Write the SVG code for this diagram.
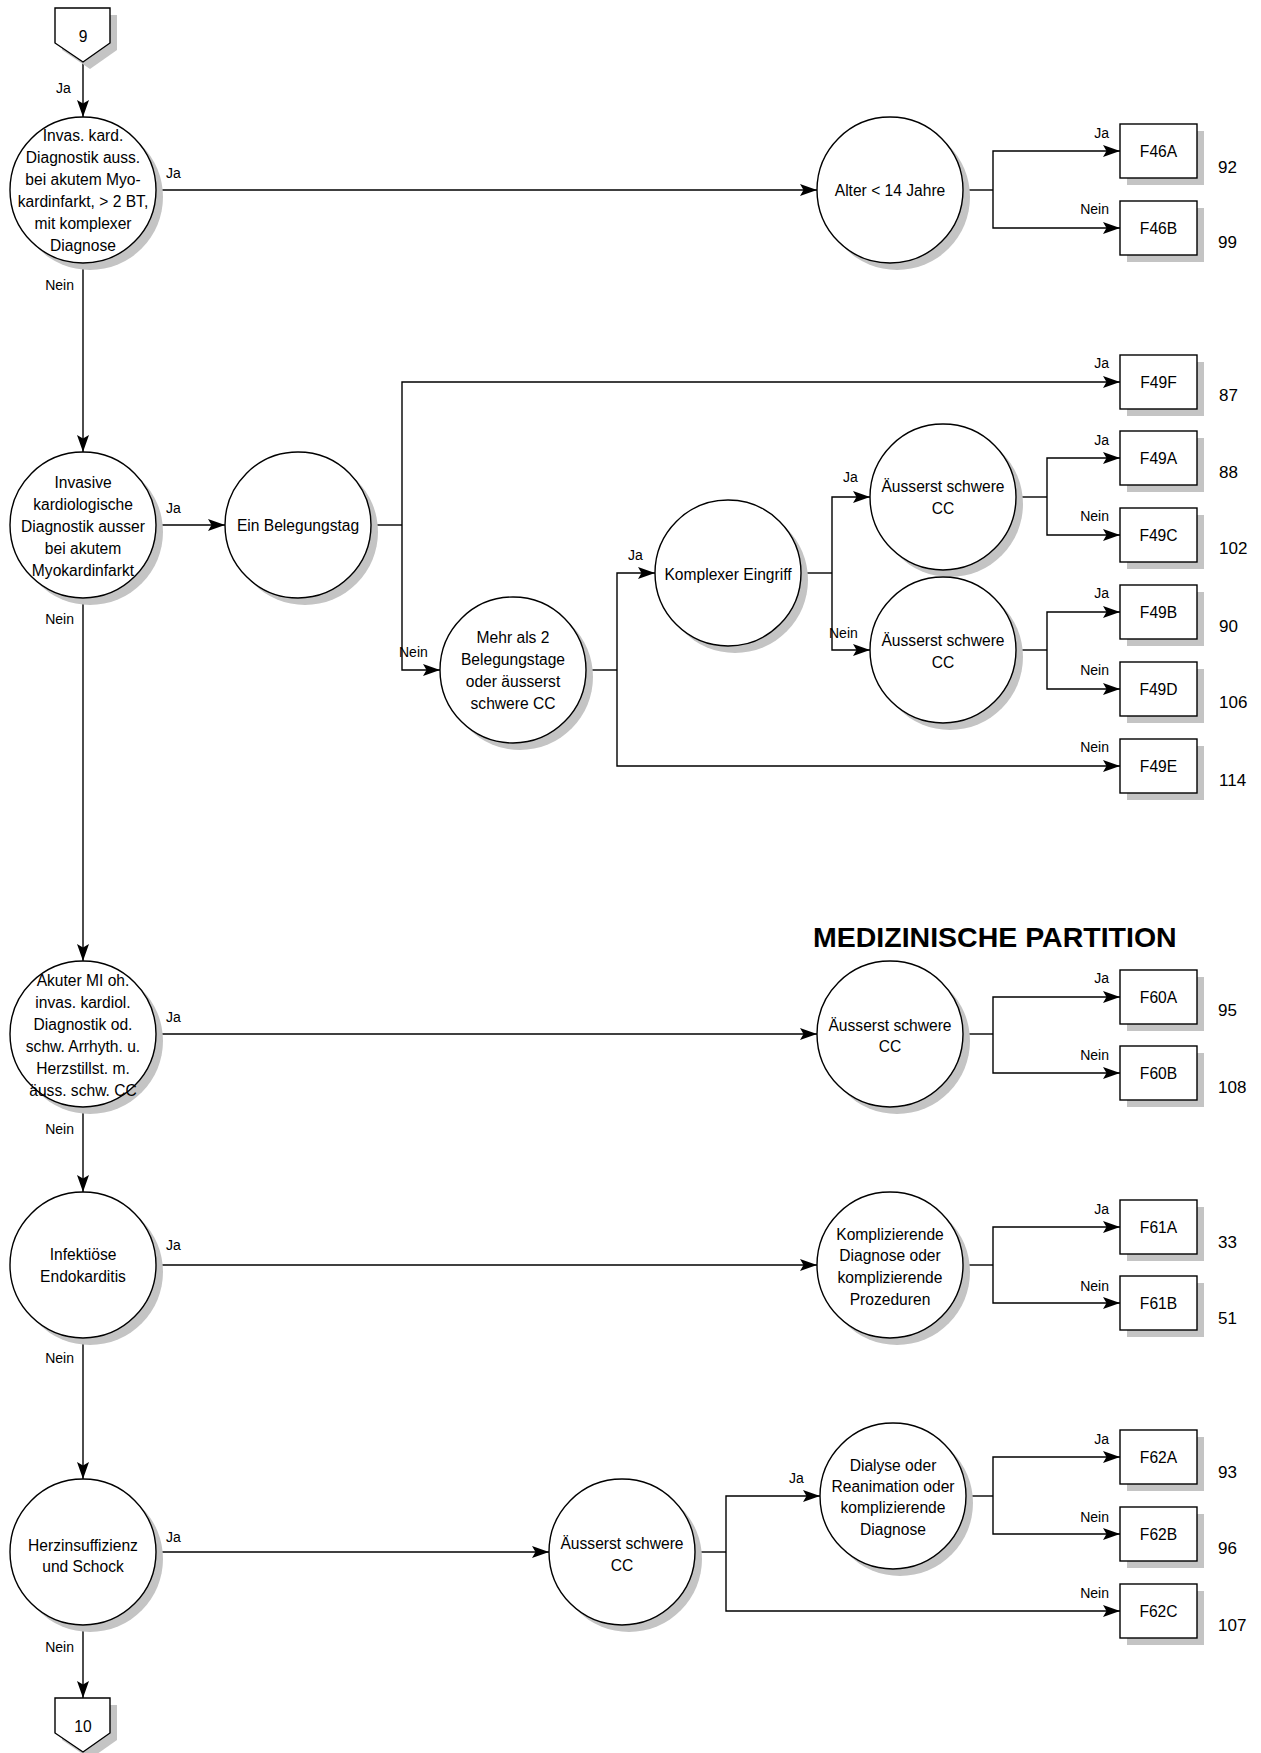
<svg xmlns="http://www.w3.org/2000/svg" width="1261" height="1753" viewBox="0 0 1261 1753">
<style>
.bg{fill:#ffffff}
.sh{fill:#c4c4c4;stroke:none}
.nd{fill:#ffffff;stroke:#000;stroke-width:1.4}
.ln{fill:none;stroke:#000;stroke-width:1.4}
.ar{fill:none;stroke:#000;stroke-width:1.4;marker-end:url(#ah)}
text{font-family:"Liberation Sans",Arial,sans-serif;fill:#000}
.t{font-size:15.6px;text-anchor:middle}
.b{font-size:15.6px;text-anchor:middle}
.l{font-size:14px}
.e{font-size:14px;text-anchor:end}
.n{font-size:17px}
.h{font-size:28.5px;font-weight:bold}
</style>
<defs>
<marker id="ah" markerUnits="userSpaceOnUse" viewBox="0 0 17 12" markerWidth="17" markerHeight="12" refX="17" refY="6" orient="auto">
<path d="M0,0 L17,6 L0,12 L3.5,6 Z" fill="#000"/>
</marker>
</defs>
<rect class="bg" x="0" y="0" width="1261" height="1753"/>

<g id="connectors">
<line class="ar" x1="83" y1="62" x2="83" y2="117"/>
<line class="ar" x1="156" y1="190" x2="817" y2="190"/>
<polyline class="ln" points="963,190 993,190"/>
<polyline class="ar" points="993,190 993,151 1120,151"/>
<polyline class="ar" points="993,190 993,228 1120,228"/>
<line class="ar" x1="83" y1="263" x2="83" y2="452"/>
<line class="ar" x1="156" y1="525" x2="225" y2="525"/>
<polyline class="ln" points="371,525 402,525"/>
<polyline class="ar" points="402,525 402,382 1120,382"/>
<polyline class="ar" points="402,525 402,670 440,670"/>
<polyline class="ln" points="586,670 617,670"/>
<polyline class="ar" points="617,670 617,573 655,573"/>
<polyline class="ar" points="617,670 617,766 1120,766"/>
<polyline class="ln" points="801,573 832,573"/>
<polyline class="ar" points="832,573 832,497 870,497"/>
<polyline class="ar" points="832,573 832,650 870,650"/>
<polyline class="ln" points="1016,497 1047,497"/>
<polyline class="ar" points="1047,497 1047,458 1120,458"/>
<polyline class="ar" points="1047,497 1047,535 1120,535"/>
<polyline class="ln" points="1016,650 1047,650"/>
<polyline class="ar" points="1047,650 1047,612 1120,612"/>
<polyline class="ar" points="1047,650 1047,689 1120,689"/>
<line class="ar" x1="83" y1="598" x2="83" y2="961"/>
<line class="ar" x1="156" y1="1034" x2="817" y2="1034"/>
<polyline class="ln" points="963,1034 993,1034"/>
<polyline class="ar" points="993,1034 993,997 1120,997"/>
<polyline class="ar" points="993,1034 993,1073 1120,1073"/>
<line class="ar" x1="83" y1="1107" x2="83" y2="1192"/>
<line class="ar" x1="156" y1="1265" x2="817" y2="1265"/>
<polyline class="ln" points="963,1265 993,1265"/>
<polyline class="ar" points="993,1265 993,1227 1120,1227"/>
<polyline class="ar" points="993,1265 993,1303 1120,1303"/>
<line class="ar" x1="83" y1="1338" x2="83" y2="1479"/>
<line class="ar" x1="156" y1="1552" x2="549" y2="1552"/>
<polyline class="ln" points="695,1552 726,1552"/>
<polyline class="ar" points="726,1552 726,1496 820,1496"/>
<polyline class="ar" points="726,1552 726,1611 1120,1611"/>
<polyline class="ln" points="966,1496 993,1496"/>
<polyline class="ar" points="993,1496 993,1457 1120,1457"/>
<polyline class="ar" points="993,1496 993,1534 1120,1534"/>
<line class="ar" x1="83" y1="1625" x2="83" y2="1698"/>

<text class="l" x="56" y="93">Ja</text>
<text class="l" x="166" y="178">Ja</text>
<text class="e" x="74" y="290">Nein</text>
<text class="l" x="166" y="513">Ja</text>
<text class="e" x="74" y="624">Nein</text>
<text class="l" x="166" y="1022">Ja</text>
<text class="e" x="74" y="1134">Nein</text>
<text class="l" x="166" y="1250">Ja</text>
<text class="e" x="74" y="1363">Nein</text>
<text class="l" x="166" y="1542">Ja</text>
<text class="e" x="74" y="1652">Nein</text>

<text class="e" x="1109" y="138">Ja</text>
<text class="e" x="1109" y="214">Nein</text>
<text class="e" x="1109" y="368">Ja</text>
<text class="e" x="1109" y="445">Ja</text>
<text class="e" x="1109" y="521">Nein</text>
<text class="e" x="1109" y="598">Ja</text>
<text class="e" x="1109" y="675">Nein</text>
<text class="e" x="1109" y="752">Nein</text>
<text class="e" x="1109" y="983">Ja</text>
<text class="e" x="1109" y="1060">Nein</text>
<text class="e" x="1109" y="1214">Ja</text>
<text class="e" x="1109" y="1291">Nein</text>
<text class="e" x="1109" y="1444">Ja</text>
<text class="e" x="1109" y="1522">Nein</text>
<text class="e" x="1109" y="1598">Nein</text>

<text class="l" x="399" y="657">Nein</text>
<text class="l" x="628" y="560">Ja</text>
<text class="l" x="843" y="482">Ja</text>
<text class="l" x="829" y="638">Nein</text>
<text class="l" x="789" y="1483">Ja</text>
</g>

<g id="title">
<text class="h" x="813" y="947">MEDIZINISCHE PARTITION</text>
</g>

<g id="n9">
<polygon class="sh" points="62,15 117,15 117,50 90,69 62,50"/>
<polygon class="nd" points="55,8 110,8 110,43 83,62 55,43"/>
<text class="b" x="83" y="42">9</text>
</g>
<g id="n10">
<polygon class="sh" points="62,1705 117,1705 117,1740 90,1759 62,1740"/>
<polygon class="nd" points="55,1698 110,1698 110,1733 83,1752 55,1733"/>
<text class="b" x="83" y="1732">10</text>
</g>

<g id="c1">
<circle class="sh" cx="90" cy="197" r="73"/>
<circle class="nd" cx="83" cy="190" r="73"/>
<text class="t" x="83" y="140.5">Invas. kard.</text>
<text class="t" x="83" y="162.5">Diagnostik auss.</text>
<text class="t" x="83" y="184.5">bei akutem Myo-</text>
<text class="t" x="83" y="206.5">kardinfarkt, &gt; 2 BT,</text>
<text class="t" x="83" y="228.5">mit komplexer</text>
<text class="t" x="83" y="250.5">Diagnose</text>
</g>
<g id="alter">
<circle class="sh" cx="897" cy="197" r="73"/>
<circle class="nd" cx="890" cy="190" r="73"/>
<text class="t" x="890" y="195.5">Alter &lt; 14 Jahre</text>
</g>
<g id="c2">
<circle class="sh" cx="90" cy="532" r="73"/>
<circle class="nd" cx="83" cy="525" r="73"/>
<text class="t" x="83" y="487.5">Invasive</text>
<text class="t" x="83" y="509.5">kardiologische</text>
<text class="t" x="83" y="531.5">Diagnostik ausser</text>
<text class="t" x="83" y="553.5">bei akutem</text>
<text class="t" x="83" y="575.5">Myokardinfarkt</text>
</g>
<g id="ein">
<circle class="sh" cx="305" cy="532" r="73"/>
<circle class="nd" cx="298" cy="525" r="73"/>
<text class="t" x="298" y="531">Ein Belegungstag</text>
</g>
<g id="mehr">
<circle class="sh" cx="520" cy="677" r="73"/>
<circle class="nd" cx="513" cy="670" r="73"/>
<text class="t" x="513" y="642.5">Mehr als 2</text>
<text class="t" x="513" y="664.5">Belegungstage</text>
<text class="t" x="513" y="686.5">oder äusserst</text>
<text class="t" x="513" y="708.5">schwere CC</text>
</g>
<g id="komplexer">
<circle class="sh" cx="735" cy="580" r="73"/>
<circle class="nd" cx="728" cy="573" r="73"/>
<text class="t" x="728" y="580">Komplexer Eingriff</text>
</g>
<g id="acc1">
<circle class="sh" cx="950" cy="504" r="73"/>
<circle class="nd" cx="943" cy="497" r="73"/>
<text class="t" x="943" y="491.5">Äusserst schwere</text>
<text class="t" x="943" y="513.5">CC</text>
</g>
<g id="acc2">
<circle class="sh" cx="950" cy="657" r="73"/>
<circle class="nd" cx="943" cy="650" r="73"/>
<text class="t" x="943" y="645.5">Äusserst schwere</text>
<text class="t" x="943" y="667.5">CC</text>
</g>
<g id="c3">
<circle class="sh" cx="90" cy="1041" r="73"/>
<circle class="nd" cx="83" cy="1034" r="73"/>
<text class="t" x="83" y="985.5">Akuter MI oh.</text>
<text class="t" x="83" y="1007.5">invas. kardiol.</text>
<text class="t" x="83" y="1029.5">Diagnostik od.</text>
<text class="t" x="83" y="1051.5">schw. Arrhyth. u.</text>
<text class="t" x="83" y="1073.5">Herzstillst. m.</text>
<text class="t" x="83" y="1095.5">äuss. schw. CC</text>
</g>
<g id="acc3">
<circle class="sh" cx="897" cy="1041" r="73"/>
<circle class="nd" cx="890" cy="1034" r="73"/>
<text class="t" x="890" y="1030.5">Äusserst schwere</text>
<text class="t" x="890" y="1051.5">CC</text>
</g>
<g id="c4">
<circle class="sh" cx="90" cy="1272" r="73"/>
<circle class="nd" cx="83" cy="1265" r="73"/>
<text class="t" x="83" y="1259.5">Infektiöse</text>
<text class="t" x="83" y="1281.5">Endokarditis</text>
</g>
<g id="kompl">
<circle class="sh" cx="897" cy="1272" r="73"/>
<circle class="nd" cx="890" cy="1265" r="73"/>
<text class="t" x="890" y="1239.5">Komplizierende</text>
<text class="t" x="890" y="1260.5">Diagnose oder</text>
<text class="t" x="890" y="1282.5">komplizierende</text>
<text class="t" x="890" y="1304.5">Prozeduren</text>
</g>
<g id="c5">
<circle class="sh" cx="90" cy="1559" r="73"/>
<circle class="nd" cx="83" cy="1552" r="73"/>
<text class="t" x="83" y="1551">Herzinsuffizienz</text>
<text class="t" x="83" y="1572">und Schock</text>
</g>
<g id="acc5">
<circle class="sh" cx="629" cy="1559" r="73"/>
<circle class="nd" cx="622" cy="1552" r="73"/>
<text class="t" x="622" y="1548.5">Äusserst schwere</text>
<text class="t" x="622" y="1570.5">CC</text>
</g>
<g id="dialyse">
<circle class="sh" cx="900" cy="1503" r="73"/>
<circle class="nd" cx="893" cy="1496" r="73"/>
<text class="t" x="893" y="1470.5">Dialyse oder</text>
<text class="t" x="893" y="1491.5">Reanimation oder</text>
<text class="t" x="893" y="1512.5">komplizierende</text>
<text class="t" x="893" y="1534.5">Diagnose</text>
</g>

<g id="boxes">
<g id="F46A"><rect class="sh" x="1127" y="131" width="77" height="54"/><rect class="nd" x="1120" y="124" width="77" height="54"/><text class="b" x="1158.5" y="156.5">F46A</text><text class="n" x="1218" y="173">92</text></g>
<g id="F46B"><rect class="sh" x="1127" y="208" width="77" height="54"/><rect class="nd" x="1120" y="201" width="77" height="54"/><text class="b" x="1158.5" y="233.5">F46B</text><text class="n" x="1218" y="248">99</text></g>
<g id="F49F"><rect class="sh" x="1127" y="362" width="77" height="54"/><rect class="nd" x="1120" y="355" width="77" height="54"/><text class="b" x="1158.5" y="387.5">F49F</text><text class="n" x="1219" y="401">87</text></g>
<g id="F49A"><rect class="sh" x="1127" y="438" width="77" height="54"/><rect class="nd" x="1120" y="431" width="77" height="54"/><text class="b" x="1158.5" y="463.5">F49A</text><text class="n" x="1219" y="478">88</text></g>
<g id="F49C"><rect class="sh" x="1127" y="515" width="77" height="54"/><rect class="nd" x="1120" y="508" width="77" height="54"/><text class="b" x="1158.5" y="540.5">F49C</text><text class="n" x="1219" y="554">102</text></g>
<g id="F49B"><rect class="sh" x="1127" y="592" width="77" height="54"/><rect class="nd" x="1120" y="585" width="77" height="54"/><text class="b" x="1158.5" y="617.5">F49B</text><text class="n" x="1219" y="632">90</text></g>
<g id="F49D"><rect class="sh" x="1127" y="669" width="77" height="54"/><rect class="nd" x="1120" y="662" width="77" height="54"/><text class="b" x="1158.5" y="694.5">F49D</text><text class="n" x="1219" y="708">106</text></g>
<g id="F49E"><rect class="sh" x="1127" y="746" width="77" height="54"/><rect class="nd" x="1120" y="739" width="77" height="54"/><text class="b" x="1158.5" y="771.5">F49E</text><text class="n" x="1219" y="786">114</text></g>
<g id="F60A"><rect class="sh" x="1127" y="977" width="77" height="54"/><rect class="nd" x="1120" y="970" width="77" height="54"/><text class="b" x="1158.5" y="1002.5">F60A</text><text class="n" x="1218" y="1016">95</text></g>
<g id="F60B"><rect class="sh" x="1127" y="1053" width="77" height="54"/><rect class="nd" x="1120" y="1046" width="77" height="54"/><text class="b" x="1158.5" y="1078.5">F60B</text><text class="n" x="1218" y="1093">108</text></g>
<g id="F61A"><rect class="sh" x="1127" y="1207" width="77" height="54"/><rect class="nd" x="1120" y="1200" width="77" height="54"/><text class="b" x="1158.5" y="1232.5">F61A</text><text class="n" x="1218" y="1248">33</text></g>
<g id="F61B"><rect class="sh" x="1127" y="1283" width="77" height="54"/><rect class="nd" x="1120" y="1276" width="77" height="54"/><text class="b" x="1158.5" y="1308.5">F61B</text><text class="n" x="1218" y="1324">51</text></g>
<g id="F62A"><rect class="sh" x="1127" y="1437" width="77" height="54"/><rect class="nd" x="1120" y="1430" width="77" height="54"/><text class="b" x="1158.5" y="1462.5">F62A</text><text class="n" x="1218" y="1478">93</text></g>
<g id="F62B"><rect class="sh" x="1127" y="1514" width="77" height="54"/><rect class="nd" x="1120" y="1507" width="77" height="54"/><text class="b" x="1158.5" y="1539.5">F62B</text><text class="n" x="1218" y="1554">96</text></g>
<g id="F62C"><rect class="sh" x="1127" y="1591" width="77" height="54"/><rect class="nd" x="1120" y="1584" width="77" height="54"/><text class="b" x="1158.5" y="1616.5">F62C</text><text class="n" x="1218" y="1631">107</text></g>
</g>
</svg>
